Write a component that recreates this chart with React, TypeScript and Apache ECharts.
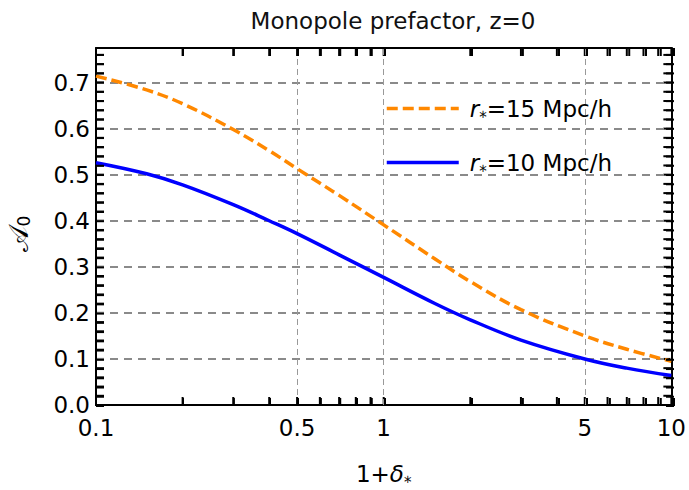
import React, { useEffect, useRef } from "react";
import * as echarts from "echarts";

// ---- data ----
const deltaValues = [0.1, 0.15, 0.2, 0.3, 0.4, 0.5, 0.7, 1, 1.5, 2, 3, 5, 7, 10];
const prefactorR15 = [0.714, 0.684, 0.654, 0.598, 0.552, 0.513, 0.455, 0.391, 0.318, 0.268, 0.207, 0.15, 0.121, 0.095];
const prefactorR10 = [0.526, 0.502, 0.478, 0.435, 0.4, 0.372, 0.326, 0.277, 0.221, 0.185, 0.141, 0.1, 0.08, 0.064];
const seriesNames = ["r15", "r10"];
const legendLabels: Record<string, string> = { r15: "=15 Mpc/h", r10: "=10 Mpc/h" };

const xTickValues = [0.1, 0.2, 0.3, 0.4, 0.5, 0.6, 0.7, 0.8, 0.9, 1, 2, 3, 4, 5, 6, 7, 8, 9, 10];
const xLabelValues = [0.1, 0.5, 1, 5, 10];
const xGridValues = [0.5, 1, 5];
const yTickValues = [0, 0.02, 0.04, 0.06, 0.08, 0.1, 0.12, 0.14, 0.16, 0.18, 0.2, 0.22, 0.24, 0.26, 0.28, 0.3, 0.32, 0.34, 0.36, 0.38, 0.4, 0.42, 0.44, 0.46, 0.48, 0.5, 0.52, 0.54, 0.56, 0.58, 0.6, 0.62, 0.64, 0.66, 0.68, 0.7, 0.72, 0.74, 0.76];
const yLabelValues = [0, 0.1, 0.2, 0.3, 0.4, 0.5, 0.6, 0.7];
const xMin = 0.1;
const xMax = 10;
const yMin = 0;
const yMax = 0.775;
const yInterval = 0.1;

const FONT = "'DejaVu Sans', 'Liberation Sans', sans-serif";
const BLACK = "#000";
const TICK = 8;

export default function App() {
  const ref = useRef<HTMLDivElement>(null);
  const overlayRef = useRef<HTMLDivElement>(null);

  useEffect(() => {
    const grid = () => ({ left: 96, right: 15, top: 48, bottom: 84, containLabel: false });
    const tickRect = (x: number, y: number, width: number, height: number) => ({
      type: "rect",
      shape: { x, y, width, height },
      style: { fill: BLACK },
    });

    // ---- overlay chart: same grid and scales, draws the inward tick marks ----
    const overlay = echarts.init(overlayRef.current!, null, { renderer: "svg" });
    try {
      overlay.setOption({
        animation: false,
        grid: grid(),
        xAxis: [{ type: "log", logBase: 10, min: xMin, max: xMax, axisLine: { show: false }, axisTick: { show: false }, axisLabel: { show: false }, splitLine: { show: false } }],
        yAxis: [{ type: "value", min: yMin, max: yMax, axisLine: { show: false }, axisTick: { show: false }, axisLabel: { show: false }, splitLine: { show: false } }],
        series: [
          {
            name: "tickBottom",
            type: "custom",
            data: xTickValues.map((v) => [v, yMin]),
            encode: { x: 0, y: 1 },
            renderItem: (_p: any, api: any) => {
              const c = api.coord([api.value(0), yMin]);
              return tickRect(c[0] - 1, c[1] - TICK, 2, TICK);
            },
          },
          {
            name: "tickTop",
            type: "custom",
            data: xTickValues.map((v) => [v, yMax]),
            encode: { x: 0, y: 1 },
            renderItem: (_p: any, api: any) => {
              const c = api.coord([api.value(0), yMax]);
              return tickRect(c[0] - 1, c[1], 2, TICK);
            },
          },
          {
            name: "tickLeft",
            type: "custom",
            data: yTickValues.map((v) => [xMin, v]),
            encode: { x: 0, y: 1 },
            renderItem: (_p: any, api: any) => {
              const c = api.coord([xMin, api.value(1)]);
              return tickRect(c[0], c[1] - 1, TICK, 2);
            },
          },
          {
            name: "tickRight",
            type: "custom",
            data: yTickValues.map((v) => [xMax, v]),
            encode: { x: 0, y: 1 },
            renderItem: (_p: any, api: any) => {
              const c = api.coord([xMax, api.value(1)]);
              return tickRect(c[0] - TICK, c[1] - 1, TICK, 2);
            },
          },
        ],
      });
    } catch (e) {
      // ignore
    }

    // ---- main chart ----
    const chart = echarts.init(ref.current!, null, { renderer: "svg" });
    const axisLine = () => ({ show: true, onZero: false, lineStyle: { color: BLACK, width: 2 } });
    const fmtX = (v: number) => String(parseFloat(Math.pow(10, v).toPrecision(6)));
    const yNameText = {
      id: "yname",
      type: "text",
      x: 18,
      y: 234,
      rotation: Math.PI / 2,
      style: {
        text: "{a|𝒜}{b|0}",
        align: "center",
        verticalAlign: "middle",
        rich: {
          a: { fontFamily: "'DejaVu Serif', 'DejaVu Sans', serif", fontSize: 27, fill: BLACK },
          b: { fontFamily: FONT, fontSize: 17, fill: BLACK, padding: [12, 0, 0, 0] },
        },
      },
    };

    const option: any = {
      animation: false,
      backgroundColor: "#fff",
      title: {
        text: "Monopole prefactor, z=0",
        left: 388,
        textAlign: "center",
        top: 4,
        textStyle: { fontFamily: FONT, fontSize: 23, fontWeight: "normal", color: "#111" },
      },
      grid: grid(),
      legend: {
        data: seriesNames,
        orient: "vertical",
        left: 380,
        top: 92,
        itemWidth: 72,
        itemHeight: 26,
        itemGap: 31,
        itemStyle: { opacity: 0 },
        lineStyle: { width: 3.5 },
        formatter: (name: string) => `{i|r}{s|⁎}${legendLabels[name]}`,
        textStyle: {
          fontFamily: FONT,
          fontSize: 23,
          color: BLACK,
          padding: [0, 0, 0, 6],
          rich: {
            i: { fontFamily: FONT, fontSize: 23, fontStyle: "italic", color: BLACK },
            s: { fontFamily: FONT, fontSize: 15, color: BLACK, padding: [8, 0, 0, 0] },
          },
        },
      },
      xAxis: [
        {
          type: "log",
          logBase: 10,
          min: xMin,
          max: xMax,
          position: "bottom",
          axisLine: axisLine(),
          axisTick: { show: false },
          axisLabel: { show: false },
          splitLine: { show: false },
          name: "1+{d|δ}{s|⁎}",
          nameLocation: "middle",
          nameGap: 57,
          nameTextStyle: {
            fontFamily: FONT,
            fontSize: 23,
            color: BLACK,
            rich: {
              d: { fontFamily: FONT, fontSize: 23, fontStyle: "italic", color: BLACK },
              s: { fontFamily: FONT, fontSize: 15, color: BLACK, padding: [8, 0, 0, 0] },
            },
          },
        },
        {
          type: "value",
          min: -1,
          max: 1,
          position: "bottom",
          axisLine: { show: false, onZero: false },
          axisTick: { show: false },
          axisLabel: {
            customValues: xLabelValues.map(Math.log10),
            formatter: fmtX,
            fontFamily: FONT,
            fontSize: 23,
            color: BLACK,
            margin: 11,
          },
          splitLine: { show: false },
        },
        {
          type: "value",
          min: -1,
          max: 1,
          position: "top",
          axisLine: axisLine(),
          axisTick: { show: false },
          axisLabel: { show: false },
          splitLine: { show: false },
        },
      ],
      yAxis: [
        {
          type: "value",
          min: yMin,
          max: yMax,
          position: "left",
          axisLine: axisLine(),
          axisTick: { show: false },
          axisLabel: {
            customValues: yLabelValues,
            formatter: (v: number) => v.toFixed(1),
            fontFamily: FONT,
            fontSize: 23,
            color: BLACK,
            margin: 6,
          },
          splitLine: { show: false },
        },
        {
          type: "value",
          min: yMin,
          max: yMax,
          interval: yInterval,
          position: "left",
          axisLine: { show: false, onZero: false },
          axisTick: { show: false },
          axisLabel: { show: false },
          splitLine: {
            show: true,
            showMinLine: false,
            showMaxLine: false,
            lineStyle: { color: "#8a8a8a", width: 2, type: [8, 6] },
          },
        },
        {
          type: "value",
          min: yMin,
          max: yMax,
          position: "right",
          axisLine: axisLine(),
          axisTick: { show: false },
          axisLabel: { show: false },
          splitLine: { show: false },
        },
      ],
      graphic: [yNameText],
      series: [
        {
          name: "r15",
          type: "line",
          xAxisIndex: 0,
          yAxisIndex: 0,
          data: deltaValues.map((x, i) => [x, prefactorR15[i]]),
          symbol: "none",
          smooth: 0.4,
          z: 3,
          lineStyle: { color: "#ff8800", width: 3.5, type: [11, 5] },
          itemStyle: { color: "#ff8800" },
        },
        {
          name: "r10",
          type: "line",
          xAxisIndex: 0,
          yAxisIndex: 0,
          data: deltaValues.map((x, i) => [x, prefactorR10[i]]),
          symbol: "none",
          smooth: 0.4,
          z: 3,
          lineStyle: { color: "#0000ff", width: 3.5, type: "solid" },
          itemStyle: { color: "#0000ff" },
          markLine: {
            silent: true,
            z: 1,
            symbol: ["none", "none"],
            label: { show: false },
            lineStyle: { color: "#999", width: 1, type: [6, 4] },
            data: xGridValues.map((v) => ({ xAxis: v })),
          },
        },
      ],
    };
    try {
      chart.setOption(option);
    } catch (e) {
      // keep whatever was drawn
    }

    // Backup: the same tick rects as graphic elements in the main chart.
    try {
      const toPx = (x: number, y: number) => chart.convertToPixel({ gridIndex: 0 } as any, [x, y]) as number[];
      const g: any[] = [yNameText];
      xTickValues.forEach((v, i) => {
        const pb = toPx(v, yMin);
        const pt = toPx(v, yMax);
        g.push({ id: "xb" + i, ...tickRect(pb[0] - 1, pb[1] - TICK, 2, TICK) });
        g.push({ id: "xt" + i, ...tickRect(pt[0] - 1, pt[1], 2, TICK) });
      });
      yTickValues.forEach((v, i) => {
        const pl = toPx(xMin, v);
        const pr = toPx(xMax, v);
        g.push({ id: "yl" + i, ...tickRect(pl[0], pl[1] - 1, TICK, 2) });
        g.push({ id: "yr" + i, ...tickRect(pr[0] - TICK, pr[1] - 1, TICK, 2) });
      });
      chart.setOption({ graphic: g });
    } catch (e) {
      // ignore
    }

    return () => {
      overlay.dispose();
      chart.dispose();
    };
  }, []);

  return (
    <div style={{ position: "absolute", left: 0, top: 0, width: 689, height: 490 }}>
      <div ref={ref} style={{ position: "absolute", left: 0, top: 0, width: 689, height: 490, zIndex: 1 }} />
      <div ref={overlayRef} style={{ position: "absolute", left: 0, top: 0, width: 689, height: 490, zIndex: 2, pointerEvents: "none" }} />
    </div>
  );
}
